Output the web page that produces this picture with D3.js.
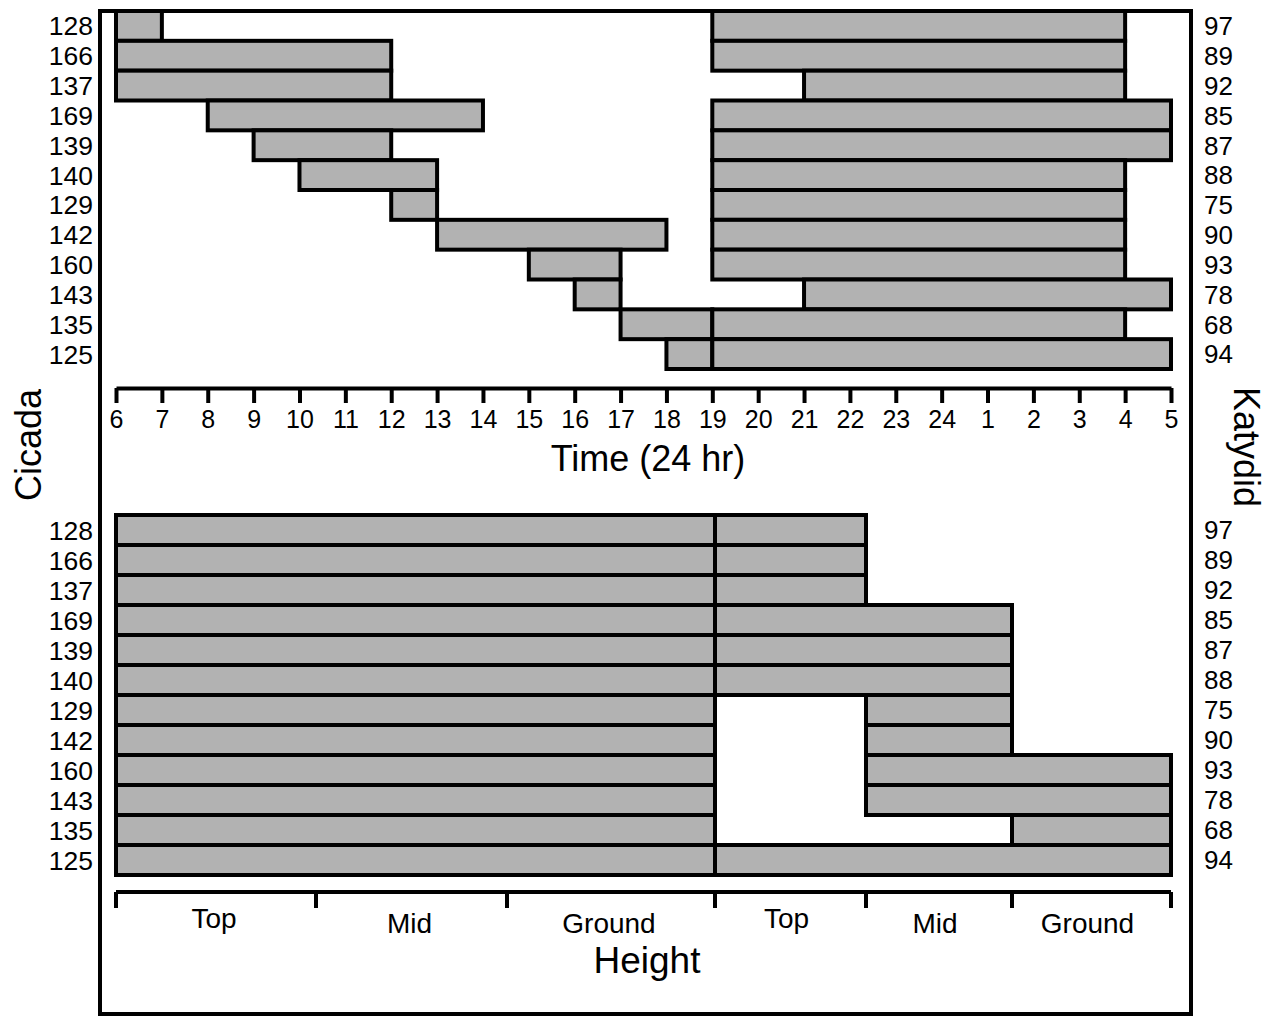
<!DOCTYPE html>
<html>
<head>
<meta charset="utf-8">
<script src="https://cdn.jsdelivr.net/npm/d3@7"></script>
<style>
  html, body { margin: 0; padding: 0; background: #fff; }
  svg { display: block; font-family: "Liberation Sans", Arial, sans-serif; }
</style>
</head>
<body>
<svg id="chart" width="1276" height="1017"></svg>
<script>
// Clock hours shown on the time axis (evening runs past midnight)
const hourTicks = ["6","7","8","9","10","11","12","13","14","15","16","17","18",
                   "19","20","21","22","23","24","1","2","3","4","5"];

// Individual IDs, one row each
const cicadaIds  = ["128","166","137","169","139","140","129","142","160","143","135","125"];
const katydidIds = ["97","89","92","85","87","88","75","90","93","78","68","94"];

// Calling period (start / end clock hour)
const cicadaStart  = ["6","6","6","8","9","10","12","13","15","16","17","18"];
const cicadaEnd    = ["7","12","12","14","12","13","13","18","17","17","19","19"];
const katydidStart = ["19","19","21","19","19","19","19","19","19","21","19","19"];
const katydidEnd   = ["4","4","4","5","5","4","4","4","4","5","4","5"];

// Perch height range (first and last zone used)
const heightZones  = ["Top","Mid","Ground"];
const cicadaFrom   = ["Top","Top","Top","Top","Top","Top","Top","Top","Top","Top","Top","Top"];
const cicadaTo     = ["Ground","Ground","Ground","Ground","Ground","Ground","Ground","Ground","Ground","Ground","Ground","Ground"];
const katydidFrom  = ["Top","Top","Top","Top","Top","Top","Mid","Mid","Mid","Mid","Ground","Top"];
const katydidTo    = ["Top","Top","Top","Mid","Mid","Mid","Mid","Mid","Ground","Ground","Ground","Ground"];

const svg = d3.select("#chart");
const FILL = "#b2b2b2", SW = 4;

// outer frame
svg.append("rect").attr("x", 100).attr("y", 11).attr("width", 1091).attr("height", 1003)
  .attr("fill", "none").attr("stroke", "#000").attr("stroke-width", SW);

const rows = d3.range(cicadaIds.length);

// ---------- time panel ----------
const xTime = d3.scalePoint().domain(hourTicks).range([116, 1171]);
const yTop = d3.scaleBand().domain(rows).range([11, 369]).padding(0);

const timeBars = svg.append("g");
rows.forEach(i => {
  timeBars.append("rect")
    .attr("x", xTime(cicadaStart[i])).attr("y", yTop(i))
    .attr("width", xTime(cicadaEnd[i]) - xTime(cicadaStart[i])).attr("height", yTop.bandwidth())
    .attr("fill", FILL).attr("stroke", "#000").attr("stroke-width", SW);
  timeBars.append("rect")
    .attr("x", xTime(katydidStart[i])).attr("y", yTop(i))
    .attr("width", xTime(katydidEnd[i]) - xTime(katydidStart[i])).attr("height", yTop.bandwidth())
    .attr("fill", FILL).attr("stroke", "#000").attr("stroke-width", SW);
});

const timeAxis = svg.append("g").attr("transform", "translate(0,388)")
  .call(d3.axisBottom(xTime).tickSize(15).tickSizeOuter(0).tickPadding(7));
timeAxis.selectAll("path, line").attr("stroke", "#000").attr("stroke-width", SW);
timeAxis.selectAll("text").attr("font-size", 25).attr("fill", "#000")
  .attr("font-family", "Liberation Sans, Arial, sans-serif");

svg.append("text").attr("x", 648).attr("y", 471).attr("text-anchor", "middle")
  .attr("font-size", 36).text("Time (24 hr)");

// ---------- height panel ----------
const xCicadaH  = d3.scaleLinear().domain([0, 1, 2, 3]).range([116, 316, 507, 715]);
const xKatydidH = d3.scaleLinear().domain([0, 1, 2, 3]).range([715, 866, 1012, 1171]);
const zoneIdx = z => heightZones.indexOf(z);
const yBot = d3.scaleBand().domain(rows).range([515, 875]).padding(0);

const hBars = svg.append("g");
rows.forEach(i => {
  const c0 = xCicadaH(zoneIdx(cicadaFrom[i])), c1 = xCicadaH(zoneIdx(cicadaTo[i]) + 1);
  hBars.append("rect").attr("x", c0).attr("y", yBot(i))
    .attr("width", c1 - c0).attr("height", yBot.bandwidth())
    .attr("fill", FILL).attr("stroke", "#000").attr("stroke-width", SW);
  const k0 = xKatydidH(zoneIdx(katydidFrom[i])), k1 = xKatydidH(zoneIdx(katydidTo[i]) + 1);
  hBars.append("rect").attr("x", k0).attr("y", yBot(i))
    .attr("width", k1 - k0).attr("height", yBot.bandwidth())
    .attr("fill", FILL).attr("stroke", "#000").attr("stroke-width", SW);
});

// height axis: boundary ticks, zone names centred between them
const hAxis = svg.append("g").attr("transform", "translate(0,892)");
hAxis.append("line").attr("x1", xCicadaH(0)).attr("x2", xKatydidH(3))
  .attr("stroke", "#000").attr("stroke-width", SW);
const boundaries = [0, 1, 2, 3].map(xCicadaH).concat([1, 2, 3].map(xKatydidH));
hAxis.selectAll("line.tick").data(boundaries).join("line").attr("class", "tick")
  .attr("x1", d => d).attr("x2", d => d).attr("y1", 0).attr("y2", 16)
  .attr("stroke", "#000").attr("stroke-width", SW);
const zoneLabels = heightZones.map((z, j) => ({ z, x: (xCicadaH(j) + xCicadaH(j + 1)) / 2 - 2 }))
  .concat(heightZones.map((z, j) => ({ z, x: (xKatydidH(j) + xKatydidH(j + 1)) / 2 - 4 })));
hAxis.selectAll("text").data(zoneLabels).join("text")
  .attr("x", d => d.x).attr("y", d => d.z === "Top" ? 36 : 41)
  .attr("text-anchor", "middle").attr("font-size", 28).text(d => d.z);

svg.append("text").attr("x", 647).attr("y", 973).attr("text-anchor", "middle")
  .attr("font-size", 37).text("Height");

// ---------- row labels ----------
[yTop, yBot].forEach(ys => {
  svg.append("g").selectAll("text").data(rows).join("text")
    .attr("x", 93).attr("y", i => ys(i) + ys.bandwidth() / 2).attr("dy", "0.36em")
    .attr("text-anchor", "end").attr("font-size", 26.5).text(i => cicadaIds[i]);
  svg.append("g").selectAll("text").data(rows).join("text")
    .attr("x", 1204).attr("y", i => ys(i) + ys.bandwidth() / 2).attr("dy", "0.36em")
    .attr("text-anchor", "start").attr("font-size", 26).text(i => katydidIds[i]);
});

// group titles
svg.append("text").attr("transform", "translate(41,445) rotate(-90)")
  .attr("text-anchor", "middle").attr("font-size", 36).text("Cicada");
svg.append("text").attr("transform", "translate(1234,447) rotate(90)")
  .attr("text-anchor", "middle").attr("font-size", 36).text("Katydid");
</script>
</body>
</html>
